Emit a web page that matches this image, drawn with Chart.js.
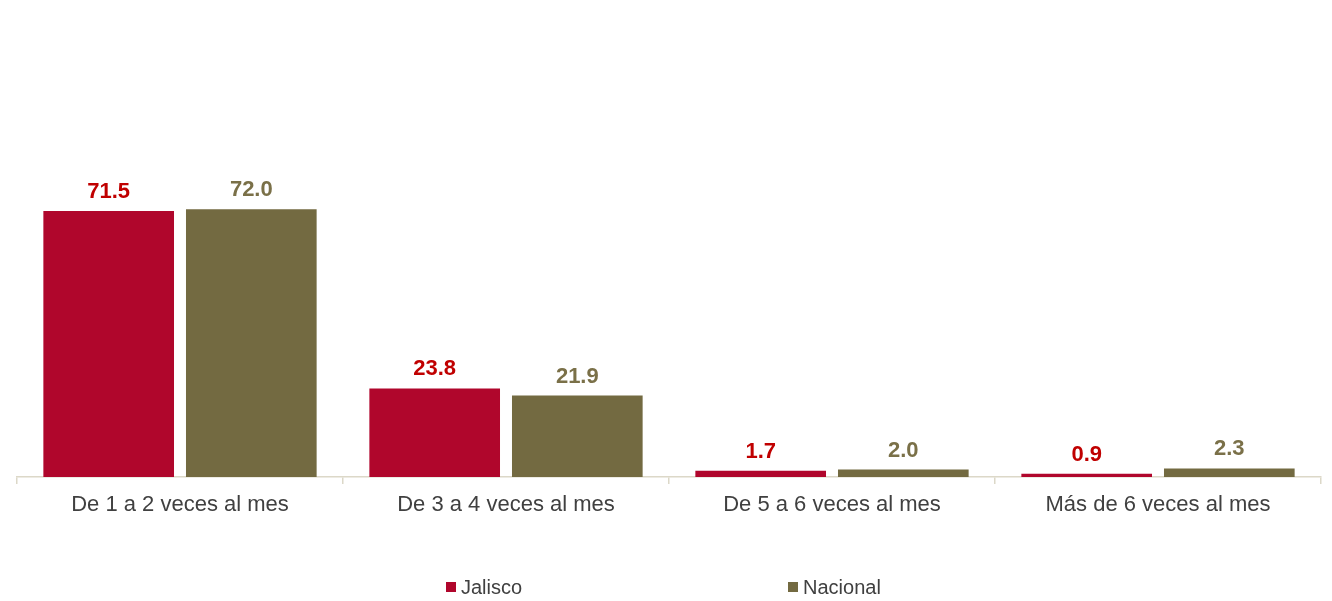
<!DOCTYPE html>
<html>
<head>
<meta charset="utf-8">
<script src="https://cdn.jsdelivr.net/npm/chart.js@4/dist/chart.umd.min.js"></script>
<style>
html,body{margin:0;padding:0;background:#fff;}
#wrap{width:1332px;height:601px;position:relative;}
</style>
</head>
<body>
<div id="wrap"><canvas id="c" width="1332" height="601"></canvas></div>
<script>
const categories = ["De 1 a 2 veces al mes", "De 3 a 4 veces al mes", "De 5 a 6 veces al mes", "Más de 6 veces al mes"];
const seriesNames = ["Jalisco", "Nacional"];
const jalisco = [71.5, 23.8, 1.7, 0.9];
const nacional = [72.0, 21.9, 2.0, 2.3];

const barColors = ["#b0062c", "#736a41"];
const labelColors = ["#c00000", "#7a7048"];
const FONT = "'Liberation Sans', Arial, sans-serif";

const valueLabels = {
  id: 'valueLabels',
  afterDatasetsDraw(chart) {
    const ctx = chart.ctx;
    ctx.save();
    ctx.font = "bold 22px " + FONT;
    ctx.textAlign = 'center';
    ctx.textBaseline = 'alphabetic';
    chart.data.datasets.forEach((ds, i) => {
      const meta = chart.getDatasetMeta(i);
      ctx.fillStyle = labelColors[i];
      meta.data.forEach((bar, j) => {
        ctx.fillText(ds.data[j].toFixed(1), bar.x, bar.y - 13);
      });
    });
    ctx.restore();
  }
};

const customLegend = {
  id: 'customLegend',
  afterDraw(chart) {
    const ctx = chart.ctx;
    ctx.save();
    ctx.font = "20px " + FONT;
    ctx.textBaseline = 'middle';
    ctx.textAlign = 'left';
    const starts = [446, 788];
    const cy = 587;
    chart.data.datasets.forEach((ds, i) => {
      ctx.fillStyle = ds.backgroundColor;
      ctx.fillRect(starts[i], cy - 5, 10, 10);
      ctx.fillStyle = '#404040';
      ctx.fillText(ds.label, starts[i] + 15, cy + 1);
    });
    ctx.restore();
  }
};

new Chart(document.getElementById('c'), {
  type: 'bar',
  data: {
    labels: categories,
    datasets: [
      { label: seriesNames[0], data: jalisco, backgroundColor: barColors[0] },
      { label: seriesNames[1], data: nacional, backgroundColor: barColors[1] }
    ]
  },
  options: {
    responsive: false,
    animation: false,
    devicePixelRatio: 1,
    layout: { padding: { left: 17, right: 11, top: 105, bottom: 0 } },
    categoryPercentage: 0.875,
    barPercentage: 0.916,
    plugins: {
      legend: { display: false },
      tooltip: { enabled: false }
    },
    scales: {
      y: { display: false, min: 0, max: 100 },
      x: {
        afterFit(scale) { scale.height = 124; },
        border: { display: true, color: '#dcd8c8', width: 1.5 },
        grid: {
          display: true,
          offset: true,
          drawOnChartArea: false,
          drawTicks: true,
          tickLength: 7,
          color: '#dcd8c8',
          lineWidth: 1.5
        },
        ticks: {
          color: '#404040',
          font: { family: FONT, size: 22 },
          padding: 8,
          maxRotation: 0
        }
      }
    }
  },
  plugins: [valueLabels, customLegend]
});
</script>
</body>
</html>
